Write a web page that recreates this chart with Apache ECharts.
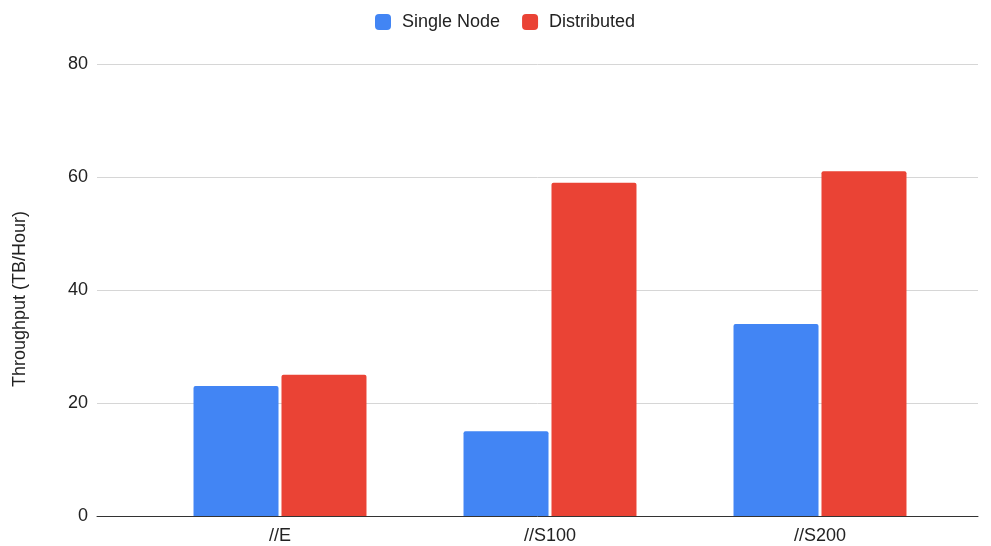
<!DOCTYPE html>
<html>
<head>
<meta charset="utf-8">
<script src="https://cdn.jsdelivr.net/npm/echarts@6/dist/echarts.min.js"></script>
<style>
  html, body { margin: 0; padding: 0; background: #fff; }
  #chart { width: 991px; height: 546px; }
</style>
</head>
<body>
<div id="chart"></div>
<script>
// Throughput per workload, single node vs distributed
const categories = ['//E', '//S100', '//S200'];
const singleNode = [23, 15, 34];
const distributed = [25, 59, 61];
const yTicks = [0, 20, 40, 60, 80];

const FONT = '"Liberation Sans", Arial, sans-serif';
const TEXT = '#222';
const yMin = yTicks[0];
const yMax = yTicks[yTicks.length - 1];
const yStep = yTicks[1] - yTicks[0];

const chart = echarts.init(document.getElementById('chart'), null, { renderer: 'canvas' });

chart.setOption({
  animation: false,
  textStyle: { fontFamily: FONT },
  legend: {
    top: 13,
    left: 375,
    itemWidth: 16,
    itemHeight: 16,
    itemGap: 22,
    padding: 0,
    icon: 'roundRect',
    textStyle: { fontFamily: FONT, fontSize: 18, color: TEXT, padding: [0, 0, 0, 6] },
    data: ['Single Node', 'Distributed']
  },
  grid: [
    // background grid: gridlines, value labels, baseline
    { left: 97, right: 13, top: 64, bottom: 30, containLabel: false },
    // bar area
    { left: 145, right: 36, top: 64, bottom: 30, containLabel: false }
  ],
  xAxis: [
    {
      gridIndex: 0,
      type: 'category',
      data: [''],
      axisLine: { show: true, lineStyle: { color: '#333', width: 1 } },
      axisTick: { show: false },
      axisLabel: { show: false }
    },
    {
      gridIndex: 1,
      type: 'category',
      data: categories,
      axisLine: { show: false },
      axisTick: { show: false },
      axisLabel: { fontFamily: FONT, fontSize: 18, color: TEXT, margin: 11 }
    }
  ],
  yAxis: [
    {
      gridIndex: 0,
      type: 'value',
      min: yMin,
      max: yMax,
      interval: yStep,
      name: 'Throughput (TB/Hour)',
      nameLocation: 'middle',
      nameRotate: 90,
      nameGap: 68,
      nameTextStyle: { fontFamily: FONT, fontSize: 18, color: TEXT, padding: [0, 18, 0, 0] },
      axisLine: { show: false },
      axisTick: { show: false },
      axisLabel: { fontFamily: FONT, fontSize: 18, color: TEXT, margin: 9 },
      splitLine: { show: true, lineStyle: { color: '#d6d6d6', width: 1 } }
    },
    {
      gridIndex: 1,
      type: 'value',
      min: yMin,
      max: yMax,
      interval: yStep,
      axisLine: { show: false },
      axisTick: { show: false },
      axisLabel: { show: false },
      splitLine: { show: false }
    }
  ],
  series: [
    {
      name: 'Single Node',
      type: 'bar',
      xAxisIndex: 1,
      yAxisIndex: 1,
      data: singleNode,
      barWidth: 85,
      barGap: '3.5%',
      itemStyle: { color: '#4285F4', borderRadius: [2, 2, 0, 0] }
    },
    {
      name: 'Distributed',
      type: 'bar',
      xAxisIndex: 1,
      yAxisIndex: 1,
      data: distributed,
      barWidth: 85,
      barGap: '3.5%',
      itemStyle: { color: '#EA4335', borderRadius: [2, 2, 0, 0] }
    }
  ]
});
</script>
</body>
</html>
